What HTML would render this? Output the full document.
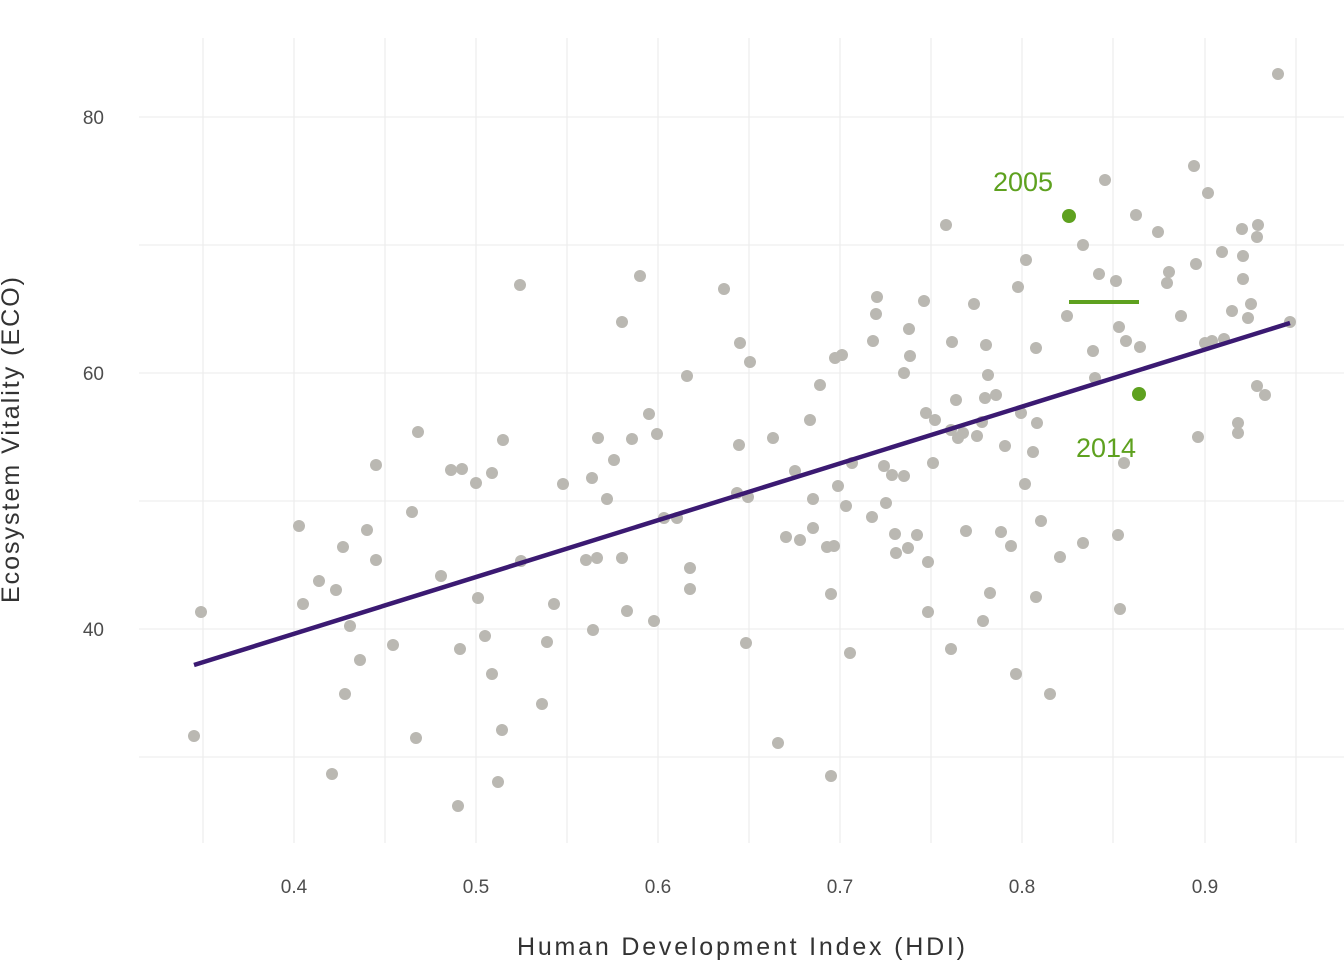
<!DOCTYPE html>
<html><head><meta charset="utf-8"><style>body{margin:0;background:#fff}svg{display:block}text{font-family:"Liberation Sans",sans-serif}</style></head><body>
<svg width="1344" height="960" xmlns="http://www.w3.org/2000/svg">
<g stroke="#ebebeb" stroke-width="1.1">
<line x1="139" x2="1344" y1="117" y2="117"/><line x1="139" x2="1344" y1="245" y2="245"/><line x1="139" x2="1344" y1="373" y2="373"/><line x1="139" x2="1344" y1="501" y2="501"/><line x1="139" x2="1344" y1="629" y2="629"/><line x1="139" x2="1344" y1="757" y2="757"/>
<line y1="38" y2="843" x1="203" x2="203"/><line y1="38" y2="843" x1="294" x2="294"/><line y1="38" y2="843" x1="385" x2="385"/><line y1="38" y2="843" x1="476" x2="476"/><line y1="38" y2="843" x1="567" x2="567"/><line y1="38" y2="843" x1="658" x2="658"/><line y1="38" y2="843" x1="749" x2="749"/><line y1="38" y2="843" x1="840" x2="840"/><line y1="38" y2="843" x1="931" x2="931"/><line y1="38" y2="843" x1="1022" x2="1022"/><line y1="38" y2="843" x1="1113" x2="1113"/><line y1="38" y2="843" x1="1205" x2="1205"/><line y1="38" y2="843" x1="1296" x2="1296"/>
</g>
<g fill="#4d4d4d" font-size="19">
<text x="104" y="124" text-anchor="end">80</text><text x="104" y="380" text-anchor="end">60</text><text x="104" y="636" text-anchor="end">40</text>
<text x="294" y="893" text-anchor="middle">0.4</text><text x="476" y="893" text-anchor="middle">0.5</text><text x="658" y="893" text-anchor="middle">0.6</text><text x="840" y="893" text-anchor="middle">0.7</text><text x="1022" y="893" text-anchor="middle">0.8</text><text x="1205" y="893" text-anchor="middle">0.9</text>
</g>
<text x="741" y="955" text-anchor="middle" font-size="25" fill="#333" textLength="448">Human Development Index (HDI)</text>
<text transform="translate(19,440) rotate(-90)" text-anchor="middle" font-size="25" fill="#333" textLength="326">Ecosystem Vitality (ECO)</text>
<g fill="#bab8b2">
<circle cx="201" cy="612" r="6"/><circle cx="194" cy="736" r="6"/><circle cx="299" cy="526" r="6"/><circle cx="303" cy="604" r="6"/><circle cx="319" cy="581" r="6"/><circle cx="336" cy="590" r="6"/><circle cx="343" cy="547" r="6"/><circle cx="350" cy="626" r="6"/><circle cx="345" cy="694" r="6"/><circle cx="332" cy="774" r="6"/><circle cx="360" cy="660" r="6"/><circle cx="367" cy="530" r="6"/><circle cx="376" cy="465" r="6"/><circle cx="376" cy="560" r="6"/><circle cx="393" cy="645" r="6"/><circle cx="416" cy="738" r="6"/><circle cx="412" cy="512" r="6"/><circle cx="418" cy="432" r="6"/><circle cx="441" cy="576" r="6"/><circle cx="451" cy="470" r="6"/><circle cx="458" cy="806" r="6"/><circle cx="460" cy="649" r="6"/><circle cx="462" cy="469" r="6"/><circle cx="476" cy="483" r="6"/><circle cx="478" cy="598" r="6"/><circle cx="485" cy="636" r="6"/><circle cx="492" cy="674" r="6"/><circle cx="492" cy="473" r="6"/><circle cx="498" cy="782" r="6"/><circle cx="502" cy="730" r="6"/><circle cx="503" cy="440" r="6"/><circle cx="520" cy="285" r="6"/><circle cx="521" cy="561" r="6"/><circle cx="542" cy="704" r="6"/><circle cx="547" cy="642" r="6"/><circle cx="554" cy="604" r="6"/><circle cx="563" cy="484" r="6"/><circle cx="586" cy="560" r="6"/><circle cx="592" cy="478" r="6"/><circle cx="597" cy="558" r="6"/><circle cx="593" cy="630" r="6"/><circle cx="598" cy="438" r="6"/><circle cx="607" cy="499" r="6"/><circle cx="614" cy="460" r="6"/><circle cx="622" cy="322" r="6"/><circle cx="622" cy="558" r="6"/><circle cx="627" cy="611" r="6"/><circle cx="632" cy="439" r="6"/><circle cx="640" cy="276" r="6"/><circle cx="649" cy="414" r="6"/><circle cx="654" cy="621" r="6"/><circle cx="657" cy="434" r="6"/><circle cx="664" cy="518" r="6"/><circle cx="677" cy="518" r="6"/><circle cx="687" cy="376" r="6"/><circle cx="690" cy="568" r="6"/><circle cx="690" cy="589" r="6"/><circle cx="724" cy="289" r="6"/><circle cx="737" cy="493" r="6"/><circle cx="739" cy="445" r="6"/><circle cx="740" cy="343" r="6"/><circle cx="746" cy="643" r="6"/><circle cx="748" cy="497" r="6"/><circle cx="750" cy="362" r="6"/><circle cx="773" cy="438" r="6"/><circle cx="778" cy="743" r="6"/><circle cx="786" cy="537" r="6"/><circle cx="795" cy="471" r="6"/><circle cx="800" cy="540" r="6"/><circle cx="810" cy="420" r="6"/><circle cx="813" cy="528" r="6"/><circle cx="813" cy="499" r="6"/><circle cx="820" cy="385" r="6"/><circle cx="827" cy="547" r="6"/><circle cx="831" cy="776" r="6"/><circle cx="831" cy="594" r="6"/><circle cx="834" cy="546" r="6"/><circle cx="835" cy="358" r="6"/><circle cx="838" cy="486" r="6"/><circle cx="842" cy="355" r="6"/><circle cx="846" cy="506" r="6"/><circle cx="850" cy="653" r="6"/><circle cx="852" cy="463" r="6"/><circle cx="872" cy="517" r="6"/><circle cx="873" cy="341" r="6"/><circle cx="876" cy="314" r="6"/><circle cx="877" cy="297" r="6"/><circle cx="884" cy="466" r="6"/><circle cx="886" cy="503" r="6"/><circle cx="892" cy="475" r="6"/><circle cx="895" cy="534" r="6"/><circle cx="896" cy="553" r="6"/><circle cx="904" cy="373" r="6"/><circle cx="904" cy="476" r="6"/><circle cx="908" cy="548" r="6"/><circle cx="909" cy="329" r="6"/><circle cx="910" cy="356" r="6"/><circle cx="917" cy="535" r="6"/><circle cx="924" cy="301" r="6"/><circle cx="928" cy="562" r="6"/><circle cx="928" cy="612" r="6"/><circle cx="933" cy="463" r="6"/><circle cx="926" cy="413" r="6"/><circle cx="935" cy="420" r="6"/><circle cx="946" cy="225" r="6"/><circle cx="951" cy="430" r="6"/><circle cx="951" cy="649" r="6"/><circle cx="956" cy="400" r="6"/><circle cx="958" cy="438" r="6"/><circle cx="963" cy="433" r="6"/><circle cx="966" cy="531" r="6"/><circle cx="974" cy="304" r="6"/><circle cx="977" cy="436" r="6"/><circle cx="982" cy="422" r="6"/><circle cx="983" cy="621" r="6"/><circle cx="985" cy="398" r="6"/><circle cx="986" cy="345" r="6"/><circle cx="990" cy="593" r="6"/><circle cx="988" cy="375" r="6"/><circle cx="996" cy="395" r="6"/><circle cx="1001" cy="532" r="6"/><circle cx="1005" cy="446" r="6"/><circle cx="1011" cy="546" r="6"/><circle cx="1016" cy="674" r="6"/><circle cx="1018" cy="287" r="6"/><circle cx="1021" cy="413" r="6"/><circle cx="1025" cy="484" r="6"/><circle cx="1026" cy="260" r="6"/><circle cx="1033" cy="452" r="6"/><circle cx="1036" cy="597" r="6"/><circle cx="1036" cy="348" r="6"/><circle cx="1037" cy="423" r="6"/><circle cx="1041" cy="521" r="6"/><circle cx="1050" cy="694" r="6"/><circle cx="1060" cy="557" r="6"/><circle cx="1067" cy="316" r="6"/><circle cx="1083" cy="543" r="6"/><circle cx="1083" cy="245" r="6"/><circle cx="1093" cy="351" r="6"/><circle cx="1095" cy="378" r="6"/><circle cx="1099" cy="274" r="6"/><circle cx="1105" cy="180" r="6"/><circle cx="1116" cy="281" r="6"/><circle cx="1118" cy="535" r="6"/><circle cx="1119" cy="327" r="6"/><circle cx="1120" cy="609" r="6"/><circle cx="1124" cy="463" r="6"/><circle cx="1126" cy="341" r="6"/><circle cx="1136" cy="215" r="6"/><circle cx="1140" cy="347" r="6"/><circle cx="1158" cy="232" r="6"/><circle cx="1167" cy="283" r="6"/><circle cx="1169" cy="272" r="6"/><circle cx="1181" cy="316" r="6"/><circle cx="1194" cy="166" r="6"/><circle cx="1196" cy="264" r="6"/><circle cx="1198" cy="437" r="6"/><circle cx="1205" cy="343" r="6"/><circle cx="1208" cy="193" r="6"/><circle cx="1212" cy="341" r="6"/><circle cx="1222" cy="252" r="6"/><circle cx="1224" cy="339" r="6"/><circle cx="1232" cy="311" r="6"/><circle cx="1238" cy="423" r="6"/><circle cx="1238" cy="433" r="6"/><circle cx="1242" cy="229" r="6"/><circle cx="1243" cy="256" r="6"/><circle cx="1243" cy="279" r="6"/><circle cx="1248" cy="318" r="6"/><circle cx="1251" cy="304" r="6"/><circle cx="1257" cy="237" r="6"/><circle cx="1258" cy="225" r="6"/><circle cx="1257" cy="386" r="6"/><circle cx="1265" cy="395" r="6"/><circle cx="1278" cy="74" r="6"/><circle cx="1290" cy="322" r="6"/><circle cx="952" cy="342" r="6"/>
</g>
<line x1="194" y1="665" x2="1290" y2="323" stroke="#3b1a72" stroke-width="4.5"/>
<line x1="1069" y1="302" x2="1139" y2="302" stroke="#5ea11f" stroke-width="4"/>
<circle cx="1069" cy="216" r="7" fill="#5ea11f"/><circle cx="1139" cy="394" r="7" fill="#5ea11f"/>
<text x="1023" y="191" text-anchor="middle" font-size="27" fill="#5ea11f">2005</text>
<text x="1106" y="457" text-anchor="middle" font-size="27" fill="#5ea11f">2014</text>
</svg>
</body></html>
